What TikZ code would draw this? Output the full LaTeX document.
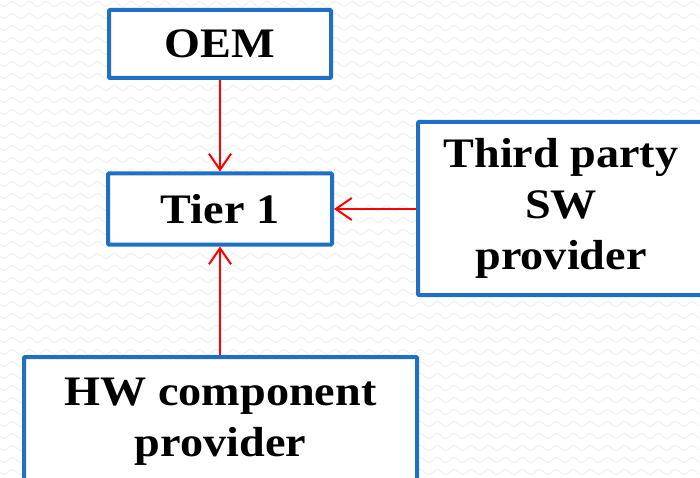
\documentclass[tikz,border=0pt]{standalone}
\usepackage{fontspec}
\setmainfont{Liberation Serif}[FakeStretch=1.1]
\usepackage{tikz}
\usetikzlibrary{arrows.meta}
\usetikzlibrary{decorations.pathmorphing}
\definecolor{boxblue}{HTML}{1F70C5}
\definecolor{flowred}{HTML}{FF0000}
\tikzset{nd/.style={rectangle,draw=boxblue,line width=4pt,fill=white,align=center,rounded corners=1pt,
    font=\fontsize{42}{51}\selectfont\bfseries}}
\tikzset{flow/.style={draw=flowred,line width=2pt,-{Straight Barb[length=16pt,width=22pt,line width=2pt]}}}

\begin{document}
\begin{tikzpicture}[x=1pt,y=-1pt]

	\useasboundingbox (0,0) rectangle (700,478);
	\clip (0,0) rectangle (700,478);
	\fill[white] (0,0) rectangle (700,478);

	% faint wavy background
	\foreach \r in {0,...,40} {
		\draw[gray!12,line width=1pt,decorate,decoration={snake,segment length=17pt,amplitude=2.5pt}]
			(-10,\r*12+4) -- (720,\r*12+4);
	}

	\node[nd,minimum width=222,minimum height=68] (oem) at (220,44) {OEM};
	\node[nd,minimum width=224,minimum height=71] (tier) at (220,209) {Tier 1};
	\node[nd,minimum width=286,minimum height=173] (third) at (561,208.5) {Third party\\SW\\provider};
	\node[nd,minimum width=393,minimum height=130] (hw) at (220.5,422) {HW component\\provider};

	\draw[flow] (oem) -- (tier);
	\draw[flow] (third.west |- tier.east) -- (tier.east);
	\draw[flow] (hw.north -| tier.south) -- (tier.south);

\end{tikzpicture}
\end{document}
